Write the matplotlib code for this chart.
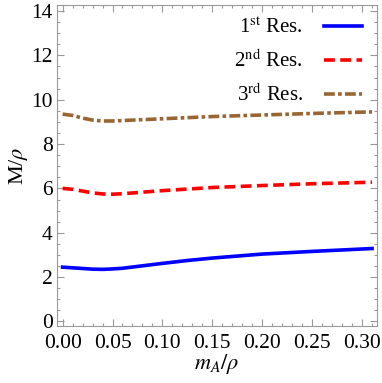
import numpy as np
import matplotlib
matplotlib.use('Agg')
import matplotlib.pyplot as plt
from matplotlib.ticker import MultipleLocator

plt.rcParams['font.family'] = ['Liberation Serif', 'DejaVu Serif']
plt.rcParams['mathtext.fontset'] = 'stix'

# values
m_a = [0.0, 0.01, 0.02, 0.03, 0.04, 0.05, 0.06, 0.08, 0.10, 0.125, 0.15, 0.20, 0.25, 0.31]
res1 = [2.45, 2.42, 2.39, 2.36, 2.35, 2.37, 2.40, 2.51, 2.62, 2.75, 2.86, 3.04, 3.16, 3.29]
res2 = [6.00, 5.96, 5.88, 5.80, 5.75, 5.74, 5.76, 5.83, 5.90, 5.97, 6.04, 6.13, 6.21, 6.28]
res3 = [9.35, 9.29, 9.17, 9.08, 9.04, 9.04, 9.06, 9.10, 9.14, 9.19, 9.24, 9.31, 9.38, 9.45]
labels = ['1$^{\\rm st}$ Res.', '2$^{\\rm nd}$ Res.', '3$^{\\rm rd}$ Res.']

fig = plt.figure(figsize=(3.82, 3.83), dpi=100)
ax = fig.add_axes([0.149, 0.149, 0.838, 0.838])

ax.plot(m_a, res1, color='#0000ff', lw=2.6, ls='-', label=labels[0])
ax.plot(m_a, res2, color='#ff0000', lw=2.6, ls=(0, (3.0, 1.5)), label=labels[1])
ax.plot(m_a, res3, color='#996633', lw=2.6, ls=(0, (3.0, 0.9, 1.0, 0.9)), label=labels[2])

ax.set_xlim(-0.0057, 0.315)
ax.set_ylim(-0.2, 14.27)
ax.xaxis.set_major_locator(MultipleLocator(0.05))
ax.xaxis.set_minor_locator(MultipleLocator(0.01))
ax.yaxis.set_major_locator(MultipleLocator(2))
ax.yaxis.set_minor_locator(MultipleLocator(0.5))
ax.xaxis.set_major_formatter(matplotlib.ticker.FormatStrFormatter('%.2f'))

for s in ax.spines.values():
    s.set_color('#999999')
    s.set_linewidth(0.8)
ax.tick_params(which='both', direction='in', top=True, right=True, colors='#999999',
               labelcolor='black', labelsize=15.5, width=0.8)
ax.tick_params(axis='x', pad=6)
ax.tick_params(axis='y', pad=3)
ax.tick_params(which='major', length=5)
ax.tick_params(which='minor', length=2.5)

ax.set_xlabel('$m_A/\\rho$', fontsize=16, labelpad=-1)
ax.set_ylabel('M/$\\rho$', fontsize=16, labelpad=1)

leg = ax.legend(loc='upper right', frameon=False, markerfirst=False, fontsize=15,
                handlelength=1.85, handletextpad=1.0, labelspacing=0.55,
                borderaxespad=0, bbox_to_anchor=(0.98, 0.985))

fig.savefig('out.png', dpi=100)
